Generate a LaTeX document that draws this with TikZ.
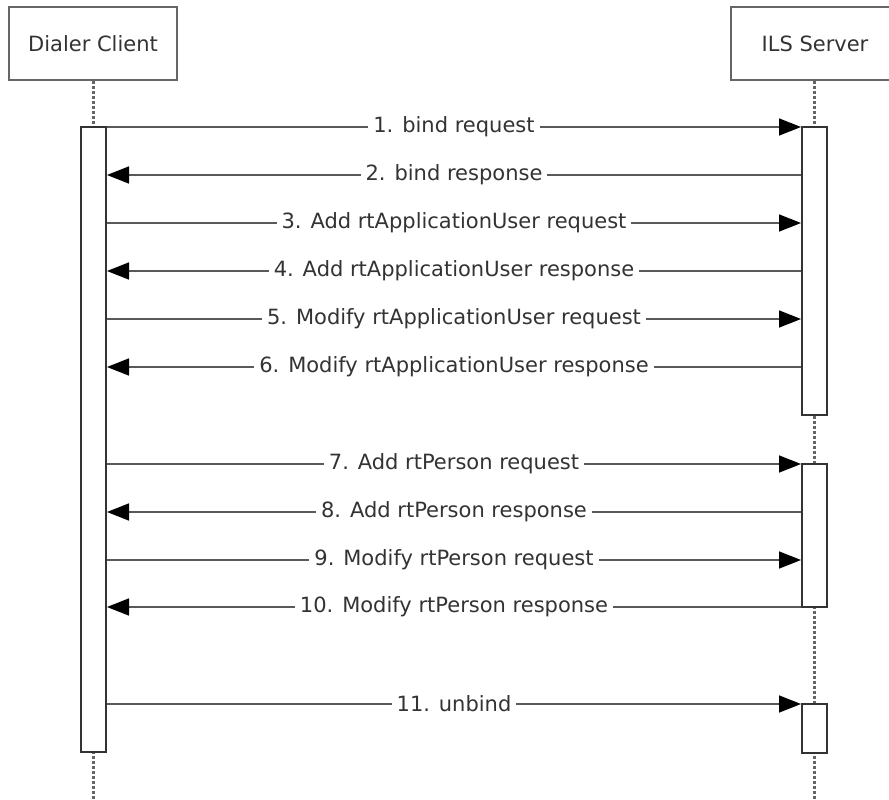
\documentclass[tikz,border=0pt]{standalone}
\usepackage{fontspec}
\setmainfont{DejaVu Sans}
\usetikzlibrary{arrows.meta}

\tikzset{
  actor/.style={draw=black!60, line width=2.5pt, fill=white, minimum width=168pt,
    minimum height=73pt, text=black!80, font=\fontsize{21}{24}\selectfont},
  lifeline/.style={draw=black!60, line width=2.5pt, dash pattern=on 2.5pt off 2.5pt},
  activation/.style={draw=black!80, line width=2pt, fill=white, minimum width=25pt, inner sep=0pt},
  msg/.style={draw=black!65, line width=1.6pt, -{Triangle[length=22pt,width=17pt,color=black]}},
  msglabel/.style={fill=white, text=black!80, inner xsep=5pt, inner ysep=1pt,
    font=\fontsize{21}{24}\selectfont}
}

\begin{document}
\begin{tikzpicture}[x=1pt, y=-1pt]
        \clip (0,0) rectangle (889,800);
        % participants
        \node[actor] (client) at (93,43.5) {Dialer Client};
        \node[actor] (server) at (815,43.5) {ILS Server};
        \coordinate (cend) at (93.5,800);
        \coordinate (send) at (814.5,800);
        \draw[lifeline] (client.south -| cend) -- (cend);
        \draw[lifeline] (server.south -| send) -- (send);
        % activation bars
        \node[activation, minimum height=625pt] (cbar) at (93.5,439.5) {};
        \node[activation, minimum height=288pt] (sbar1) at (814.5,271) {};
        \node[activation, minimum height=143pt] (sbar2) at (814.5,535.5) {};
        \node[activation, minimum height=49pt] (sbar3) at (814.5,728.5) {};
        % requests
        \foreach \y/\txt in {127/1. bind request, 223/3. Add rtApplicationUser request,
                319/5. Modify rtApplicationUser request, 464/7. Add rtPerson request,
                560/9. Modify rtPerson request, 704/11. unbind} {
            \coordinate (from) at (cbar.east |- 0,\y);
            \coordinate (to) at (sbar1.west |- 0,\y);
            \draw[msg] (from) -- node[msglabel] {\txt} (to);
        }
        % responses
        \foreach \y/\txt in {175/2. bind response, 271/4. Add rtApplicationUser response,
                367/6. Modify rtApplicationUser response, 512/8. Add rtPerson response,
                607/10. Modify rtPerson response} {
            \coordinate (from) at (sbar1.west |- 0,\y);
            \coordinate (to) at (cbar.east |- 0,\y);
            \draw[msg] (from) -- node[msglabel] {\txt} (to);
        }
\end{tikzpicture}
\end{document}
